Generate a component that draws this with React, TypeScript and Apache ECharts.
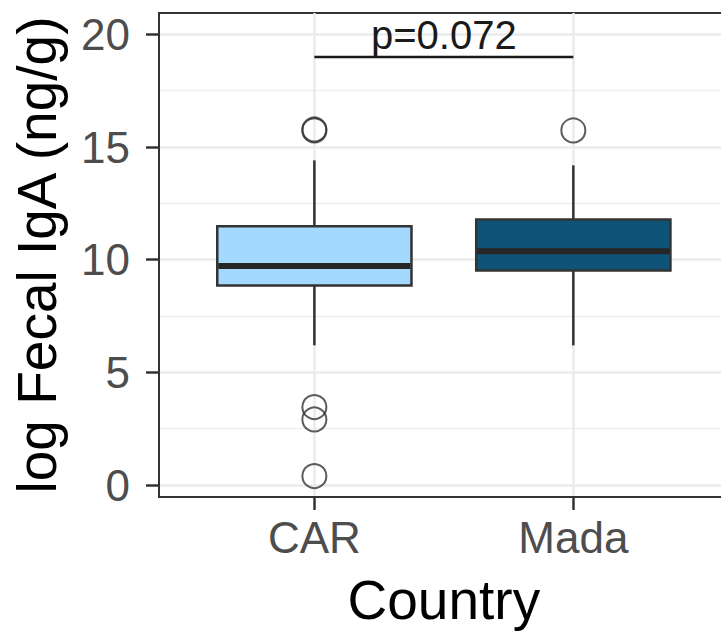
import React, { useEffect, useRef } from 'react';
import * as echarts from 'echarts';

// ---- data ----
const categories = ['CAR', 'Mada'];
const lowerWhisker = [6.2, 6.2];
const q1 = [8.86, 9.52];
const median = [9.72, 10.38];
const q3 = [11.49, 11.78];
const upperWhisker = [14.41, 14.19];
const carOutliers = [15.78, 15.74, 3.46, 2.91, 0.4];
const madaOutliers = [15.74];
const yTicks = [0, 5, 10, 15, 20];
const yMinorTicks = [2.5, 7.5, 12.5, 17.5];
const pValueLabel = 'p=0.072';
const bracketY = 19;
const pLabelY = 19.97;

// ---- styles ----
const boxFills = ['#A3D9FF', '#0F5478'];
const FONT = "'Liberation Sans', Arial, Helvetica, sans-serif";

export default function App() {
  const ref = useRef<HTMLDivElement>(null);

  useEffect(() => {
    if (!ref.current) return;
    const chart = echarts.init(ref.current, undefined, { renderer: 'svg' });

    const boxData = categories.map((_, i) => [
      i + 1,
      lowerWhisker[i],
      q1[i],
      median[i],
      q3[i],
      upperWhisker[i],
    ]);
    const outlierData = [
      ...carOutliers.map((v) => [1, v]),
      ...madaOutliers.map((v) => [2, v]),
    ];

    const option: any = {
      animation: false,
      backgroundColor: '#ffffff',
      grid: {
        left: 159,
        top: 13,
        right: -7.7,
        bottom: 134,
        outerBoundsMode: 'none',
        containLabel: false,
        show: true,
        borderColor: '#333333',
        borderWidth: 2,
        backgroundColor: '#ffffff',
      },
      xAxis: {
        type: 'value',
        min: 0.4,
        max: 2.6,
        name: 'Country',
        nameLocation: 'middle',
        nameGap: 75,
        nameTextStyle: { fontSize: 55, color: '#000000', fontFamily: FONT },
        axisLine: { show: true, onZero: false, lineStyle: { color: '#333333', width: 2 } },
        axisTick: {
          show: true,
          customValues: [1, 2],
          length: 13,
          lineStyle: { color: '#333333', width: 2.5 },
        },
        axisLabel: {
          customValues: [1, 2],
          formatter: (v: number) => categories[Math.round(v) - 1] ?? '',
          fontSize: 44,
          color: '#4D4D4D',
          fontFamily: FONT,
          margin: 18,
        },
        splitLine: { show: true, lineStyle: { color: '#EBEBEB', width: 2.5 } },
      },
      yAxis: [
        {
          type: 'value',
          min: -0.53,
          max: 20.95,
          position: 'left',
          name: 'log Fecal IgA (ng/g)',
          nameLocation: 'middle',
          nameRotate: 90,
          nameGap: 95,
          nameTextStyle: { fontSize: 55, color: '#000000', fontFamily: FONT },
          axisLine: { show: true, onZero: false, lineStyle: { color: '#333333', width: 2 } },
          axisTick: {
            show: true,
            customValues: yTicks,
            length: 13,
            lineStyle: { color: '#333333', width: 2.5 },
          },
          axisLabel: {
            customValues: yTicks,
            fontSize: 44,
            color: '#4D4D4D',
            fontFamily: FONT,
            margin: 29,
          },
          splitLine: { show: true, lineStyle: { color: '#EBEBEB', width: 2.5 } },
        },
        {
          type: 'value',
          min: -0.53,
          max: 20.95,
          position: 'left',
          axisLine: { show: false },
          axisTick: { show: false, customValues: yMinorTicks },
          axisLabel: { show: false, customValues: yMinorTicks },
          splitLine: { show: true, lineStyle: { color: '#EFEFEF', width: 1.3 } },
        },
      ],
      series: [
        {
          type: 'custom',
          name: 'boxes',
          silent: true,
          data: boxData,
          encode: { x: 0, y: [1, 2, 3, 4, 5] },
          renderItem: (params: any, api: any) => {
            const x = api.value(0);
            const lo = api.coord([x, api.value(1)]);
            const b1 = api.coord([x, api.value(2)]);
            const md = api.coord([x, api.value(3)]);
            const b3 = api.coord([x, api.value(4)]);
            const hi = api.coord([x, api.value(5)]);
            const w = api.size([0.75, 0])[0];
            const left = b1[0] - w / 2;
            const fill = boxFills[params.dataIndex % boxFills.length];
            return {
              type: 'group',
              children: [
                {
                  type: 'line',
                  shape: { x1: lo[0], y1: lo[1], x2: b1[0], y2: b1[1] },
                  style: { stroke: '#333333', lineWidth: 2.5 },
                },
                {
                  type: 'line',
                  shape: { x1: b3[0], y1: b3[1], x2: hi[0], y2: hi[1] },
                  style: { stroke: '#333333', lineWidth: 2.5 },
                },
                {
                  type: 'rect',
                  shape: { x: left, y: b3[1], width: w, height: b1[1] - b3[1] },
                  style: { fill, stroke: '#333333', lineWidth: 2.5 },
                },
                {
                  type: 'line',
                  shape: { x1: left + 1, y1: md[1], x2: left + w - 1, y2: md[1] },
                  style: { stroke: '#262626', lineWidth: 6 },
                },
              ],
            };
          },
        },
        {
          type: 'scatter',
          name: 'outliers',
          silent: true,
          data: outlierData,
          symbol: 'circle',
          symbolSize: 24,
          itemStyle: { color: 'rgba(0,0,0,0)', borderColor: '#333333', borderWidth: 2 },
          z: 3,
        },
        {
          type: 'custom',
          name: 'pvalue',
          silent: true,
          data: [[1, 2, bracketY, pLabelY]],
          encode: { x: [0, 1], y: [2, 3] },
          renderItem: (_params: any, api: any) => {
            const a = api.coord([api.value(0), api.value(2)]);
            const b = api.coord([api.value(1), api.value(2)]);
            const t = api.coord([(api.value(0) + api.value(1)) / 2, api.value(3)]);
            return {
              type: 'group',
              children: [
                {
                  type: 'line',
                  shape: { x1: a[0], y1: a[1], x2: b[0], y2: b[1] },
                  style: { stroke: '#1A1A1A', lineWidth: 2.5 },
                },
                {
                  type: 'text',
                  x: t[0],
                  y: t[1],
                  style: {
                    text: pValueLabel,
                    fontSize: 40,
                    fontFamily: FONT,
                    fill: '#1A1A1A',
                    align: 'center',
                    verticalAlign: 'middle',
                  },
                },
              ],
            };
          },
        },
      ],
    };

    chart.setOption(option);
    return () => chart.dispose();
  }, []);

  return (
    <div
      ref={ref}
      style={{ position: 'fixed', left: 0, top: 0, width: 721, height: 631, background: '#fff' }}
    />
  );
}
